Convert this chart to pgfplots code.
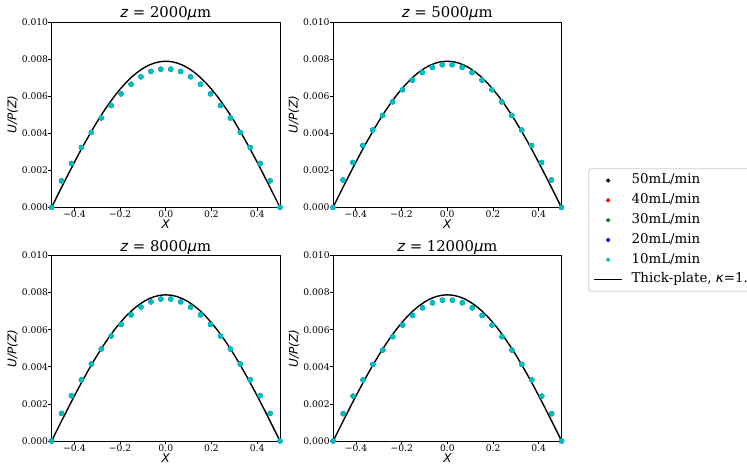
\documentclass[border=0pt]{standalone}
\usepackage{pgfplots}
\pgfplotsset{compat=1.18}
\usepackage{pgfplotstable}
\usepackage{fontspec}
\setmainfont{DejaVu Serif}
\newfontfamily\dvs{DejaVu Sans}

\definecolor{mplc}{rgb}{0,0.75,0.75}
\definecolor{mplg}{rgb}{0,0.5,0}
\definecolor{mplr}{rgb}{1,0,0}
\definecolor{mplb}{rgb}{0,0,1}

\pgfplotstableread{
x y
-0.500 0.000000
-0.475 0.000618
-0.450 0.001233
-0.425 0.001840
-0.400 0.002435
-0.375 0.003016
-0.350 0.003577
-0.325 0.004117
-0.300 0.004632
-0.275 0.005118
-0.250 0.005572
-0.225 0.005992
-0.200 0.006375
-0.175 0.006719
-0.150 0.007021
-0.125 0.007280
-0.100 0.007494
-0.075 0.007662
-0.050 0.007783
-0.025 0.007856
0.000 0.007880
0.025 0.007856
0.050 0.007783
0.075 0.007662
0.100 0.007494
0.125 0.007280
0.150 0.007021
0.175 0.006719
0.200 0.006375
0.225 0.005992
0.250 0.005572
0.275 0.005118
0.300 0.004632
0.325 0.004117
0.350 0.003577
0.375 0.003016
0.400 0.002435
0.425 0.001840
0.450 0.001233
0.475 0.000618
0.500 0.000000
}\curve

% z = 2000
\pgfplotstableread{
x y
-0.50000 0.00000
-0.45652 0.00143
-0.41304 0.00237
-0.36957 0.00323
-0.32609 0.00404
-0.28261 0.00482
-0.23913 0.00549
-0.19565 0.00612
-0.15217 0.00664
-0.10870 0.00704
-0.06522 0.00733
-0.02174 0.00745
0.02174 0.00745
0.06522 0.00733
0.10870 0.00704
0.15217 0.00664
0.19565 0.00612
0.23913 0.00549
0.28261 0.00482
0.32609 0.00404
0.36957 0.00323
0.41304 0.00237
0.45652 0.00143
0.50000 0.00000
}\pa

% z = 5000
\pgfplotstableread{
x y
-0.50000 0.00000
-0.45652 0.00148
-0.41304 0.00242
-0.36957 0.00334
-0.32609 0.00417
-0.28261 0.00496
-0.23913 0.00569
-0.19565 0.00634
-0.15217 0.00686
-0.10870 0.00727
-0.06522 0.00755
-0.02174 0.00769
0.02174 0.00769
0.06522 0.00755
0.10870 0.00727
0.15217 0.00686
0.19565 0.00634
0.23913 0.00569
0.28261 0.00496
0.32609 0.00417
0.36957 0.00334
0.41304 0.00242
0.45652 0.00148
0.50000 0.00000
}\pb

% z = 8000
\pgfplotstableread{
x y
-0.50000 0.00000
-0.45652 0.00149
-0.41304 0.00244
-0.36957 0.00330
-0.32609 0.00415
-0.28261 0.00496
-0.23913 0.00566
-0.19565 0.00628
-0.15217 0.00680
-0.10870 0.00722
-0.06522 0.00750
-0.02174 0.00765
0.02174 0.00765
0.06522 0.00750
0.10870 0.00722
0.15217 0.00680
0.19565 0.00628
0.23913 0.00566
0.28261 0.00496
0.32609 0.00415
0.36957 0.00330
0.41304 0.00244
0.45652 0.00149
0.50000 0.00000
}\pc

% z = 12000
\pgfplotstableread{
x y
-0.50000 0.00000
-0.45652 0.00147
-0.41304 0.00242
-0.36957 0.00329
-0.32609 0.00413
-0.28261 0.00490
-0.23913 0.00562
-0.19565 0.00625
-0.15217 0.00677
-0.10870 0.00718
-0.06522 0.00745
-0.02174 0.00759
0.02174 0.00759
0.06522 0.00745
0.10870 0.00718
0.15217 0.00677
0.19565 0.00625
0.23913 0.00562
0.28261 0.00490
0.32609 0.00413
0.36957 0.00329
0.41304 0.00242
0.45652 0.00147
0.50000 0.00000
}\pd

\pgfplotsset{
  panel/.style={
    scale only axis, width=228.4bp, height=185.5bp,
    anchor=south west,
    xmin=-0.5, xmax=0.5, ymin=0, ymax=0.01,
    axis line style={line width=0.75bp},
    xtick={-0.4,-0.2,0,0.2,0.4},
    xticklabels={−0.4,−0.2,0.0,0.2,0.4},
    ytick={0,0.002,0.004,0.006,0.008,0.01},
    yticklabels={0.000,0.002,0.004,0.006,0.008,0.010},
    scaled y ticks=false, scaled x ticks=false,
    tick align=outside, tick pos=left,
    major tick length=3.3bp,
    every tick/.style={black, line width=0.75bp},
    ticklabel style={font=\fontsize{9.2bp}{11bp}\selectfont, inner sep=0pt},
    yticklabel style={anchor=east},
    xticklabel style={anchor=north},
    xlabel={\dvs\itshape X}, ylabel={\dvs\itshape U/P(Z)},
    label style={font=\fontsize{12bp}{14bp}\selectfont},
    ylabel style={at={(axis description cs:-0.171,0.5)}, anchor=center},
    xlabel style={at={(axis description cs:0.5,-0.092)}, anchor=center},
    title style={font=\fontsize{14.8bp}{17bp}\selectfont, anchor=base, inner sep=0pt, yshift=-1.5bp},
  },
  mleg/.style={legend image code/.code={\draw[##1, mark size=1.7bp] plot coordinates {(14bp,0bp)};}},
  lleg/.style={legend image code/.code={\draw[##1] (0bp,0bp) -- (28bp,0bp);}},
}

\newcommand{\ztitle}[1]{{\dvs\itshape z} = #1{\dvs\itshape μ}m}

\newcommand{\panelplots}[1]{%
  \addplot[black, line width=1.4bp, forget plot] table {\curve};
  \addplot[only marks, mark=*, mark size=2.2bp, color=black, mleg] table {#1};
  \addplot[only marks, mark=*, mark size=2.2bp, color=mplr, mleg] table {#1};
  \addplot[only marks, mark=*, mark size=2.2bp, color=mplg, mleg] table {#1};
  \addplot[only marks, mark=*, mark size=2.2bp, color=mplb, mleg] table {#1};
  \addplot[only marks, mark=*, mark size=2.6bp, color=mplc, mleg] table {#1};
}

\begin{document}
\begin{tikzpicture}
\path[use as bounding box] (0bp,0bp) rectangle (747bp,474bp);

\begin{axis}[panel, at={(51.6bp,266.6bp)}, title={\ztitle{2000}}]
\panelplots{\pa}
\end{axis}

\begin{axis}[panel, at={(333.0bp,266.6bp)}, title={\ztitle{5000}},
  legend style={at={(axis description cs:1.1178,0.2102)}, anchor=north west,
    draw=black!20, line width=0.8bp, rounded corners=2bp, fill=white,
    inner xsep=4.7bp, inner ysep=5bp,
    font=\fontsize{13.4bp}{16bp}\selectfont,
    nodes={inner sep=0pt, text height=10bp, text depth=3.5bp},
    row sep=6.3bp, column sep=8.7bp},
  legend cell align=left]
\panelplots{\pb}
\addlegendentry{50mL/min}
\addlegendentry{40mL/min}
\addlegendentry{30mL/min}
\addlegendentry{20mL/min}
\addlegendentry{10mL/min}
\addlegendimage{black, line width=1.4bp, lleg}
\addlegendentry{Thick-plate, {\dvs\itshape κ}=1.\hspace{30bp}}
\end{axis}

\begin{axis}[panel, at={(51.6bp,33.0bp)}, title={\ztitle{8000}}]
\panelplots{\pc}
\end{axis}

\begin{axis}[panel, at={(333.2bp,33.0bp)}, title={\ztitle{12000}}]
\panelplots{\pd}
\end{axis}
\end{tikzpicture}
\end{document}
